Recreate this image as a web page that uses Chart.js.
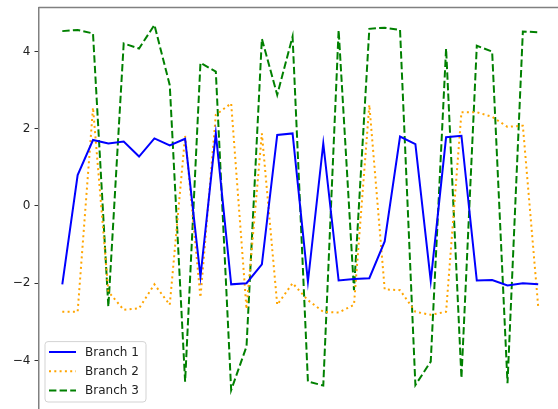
<!DOCTYPE html>
<html>
<head>
<meta charset="utf-8">
<script src="https://cdn.jsdelivr.net/npm/chart.js@4/dist/chart.umd.min.js"></script>
<style>
  html, body { margin: 0; padding: 0; background: #fff; }
  #wrap { width: 558px; height: 409px; overflow: hidden; position: relative; }
  canvas { display: block; }
</style>
</head>
<body>
<div id="wrap"><canvas id="myChart" width="570" height="440"></canvas></div>
<script>
// values, one per step 0..31
const branch1 = [-2.03, 0.80, 1.71, 1.62, 1.67, 1.28, 1.75, 1.57, 1.74, -1.83, 1.88, -2.03, -2.00, -1.51, 1.84, 1.88,
                 -1.96, 1.62, -1.93, -1.89, -1.87, -0.92, 1.80, 1.60, -1.94, 1.78, 1.82, -1.93, -1.92, -2.06, -2.00, -2.03];
const branch2 = [-2.74, -2.74, 2.55, -2.22, -2.69, -2.65, -2.03, -2.56, 1.82, -2.37, 2.36, 2.66, -2.67, 1.88, -2.56, -2.00,
                 -2.44, -2.74, -2.76, -2.56, 2.62, -2.16, -2.18, -2.74, -2.82, -2.74, 2.43, 2.43, 2.31, 2.05, 2.08, -2.61];
const branch3 = [4.53, 4.56, 4.47, -2.61, 4.21, 4.08, 4.69, 3.13, -4.55, 3.71, 3.48, -4.77, -3.64, 4.33, 2.88, 4.39,
                 -4.55, -4.65, 4.56, -2.18, 4.59, 4.62, 4.56, -4.64, -4.03, 4.08, -4.46, 4.15, 4.00, -4.59, 4.52, 4.50];
const seriesNames = ['Branch 1', 'Branch 2', 'Branch 3'];
const yTicks = [-4, -2, 0, 2, 4];
const xTicks = [0, 5, 10, 15, 20, 25, 30];

const SPINE = '#808080';
const FONT = '12px "DejaVu Sans"';
// where the axes box should sit on the (cropped) canvas
const AREA = {left: 38.5, top: 7.5, right: 562, bottom: 409.5};

const toPoints = (arr) => arr.map((v, i) => ({x: i, y: v}));

// matplotlib-ish frame: top spine (right one is cropped off)
const topSpine = {
  id: 'topSpine',
  afterDraw(chart) {
    const a = chart.chartArea, ctx = chart.ctx;
    ctx.save();
    ctx.strokeStyle = SPINE;
    ctx.lineWidth = 1.5;
    ctx.beginPath();
    ctx.moveTo(a.left, a.top);
    ctx.lineTo(a.right, a.top);
    ctx.stroke();
    ctx.restore();
  }
};

// legend box in lower left of the axes
const boxLegend = {
  id: 'boxLegend',
  afterDraw(chart) {
    const a = chart.chartArea, ctx = chart.ctx;
    const x = a.left + 6.5, w = 101, h = 60.4;
    const y = a.bottom - 7.5 - h;
    ctx.save();
    ctx.beginPath();
    ctx.roundRect(x, y, w, h, 3);
    ctx.fillStyle = 'rgba(255,255,255,0.8)';
    ctx.fill();
    ctx.strokeStyle = '#d3d3d3';
    ctx.lineWidth = 1;
    ctx.stroke();
    chart.data.datasets.forEach((ds, i) => {
      const ry = y + 10.4 + i * 19.2;
      ctx.beginPath();
      ctx.setLineDash(ds.borderDash || []);
      ctx.strokeStyle = ds.borderColor;
      ctx.lineWidth = ds.borderWidth;
      ctx.moveTo(x + 4, ry);
      ctx.lineTo(x + 31, ry);
      ctx.stroke();
      ctx.setLineDash([]);
      ctx.fillStyle = '#222';
      ctx.font = FONT;
      ctx.textBaseline = 'middle';
      ctx.fillText(ds.label, x + 40, ry + 0.5);
    });
    ctx.restore();
  }
};

const data = {
  datasets: [
    {label: seriesNames[0], data: toPoints(branch1), borderColor: 'blue', borderWidth: 2},
    {label: seriesNames[1], data: toPoints(branch2), borderColor: 'orange', borderWidth: 2, borderDash: [2, 3.3]},
    {label: seriesNames[2], data: toPoints(branch3), borderColor: 'green', borderWidth: 2, borderDash: [7.4, 3.2]},
  ]
};

const config = {
  type: 'line',
  data: data,
  options: {
    responsive: false,
    animation: false,
    devicePixelRatio: 1,
    layout: {padding: {left: 0, right: 8, top: 7.5, bottom: 0}},
    elements: {
      point: {radius: 0},
      line: {tension: 0, borderCapStyle: 'butt', fill: false}
    },
    scales: {
      x: {
        type: 'linear',
        min: -1.55,
        max: 32.55,
        afterFit(s) { s.height = 30; s.paddingLeft = 0; s.paddingRight = 0; },
        afterBuildTicks(s) { s.ticks = xTicks.map(v => ({value: v})); },
        grid: {display: true, drawOnChartArea: false, tickLength: 4, tickColor: '#333'},
        border: {color: SPINE, width: 1.5},
        ticks: {font: {family: 'DejaVu Sans', size: 12}, color: '#222'}
      },
      y: {
        type: 'linear',
        min: -5.272,
        max: 5.142,
        // label overflow padding would push the axes box down; drop it
        afterFit(s) { s.width = 38.5; s.paddingTop = 0; s.paddingBottom = 0; },
        afterBuildTicks(s) { s.ticks = yTicks.map(v => ({value: v})); },
        grid: {display: true, drawOnChartArea: false, tickLength: 4, tickColor: '#333'},
        border: {color: SPINE, width: 1.5},
        ticks: {
          font: {family: 'DejaVu Sans', size: 12},
          color: '#222',
          padding: 4,
          callback: (v) => String(v).replace('-', '\u2212')
        }
      }
    },
    plugins: {
      legend: {display: false},
      tooltip: {enabled: false}
    }
  },
  plugins: [topSpine, boxLegend]
};

const ctx = document.getElementById('myChart').getContext('2d');
const myChart = new Chart(ctx, config);

// nudge the layout padding so the axes box lands where the reference has it
for (let k = 0; k < 3; k++) {
  const a = myChart.chartArea;
  const p = myChart.options.layout.padding;
  p.left += AREA.left - a.left;
  p.top += AREA.top - a.top;
  p.right += a.right - AREA.right;
  p.bottom += a.bottom - AREA.bottom;
  myChart.update();
}
</script>
</body>
</html>
